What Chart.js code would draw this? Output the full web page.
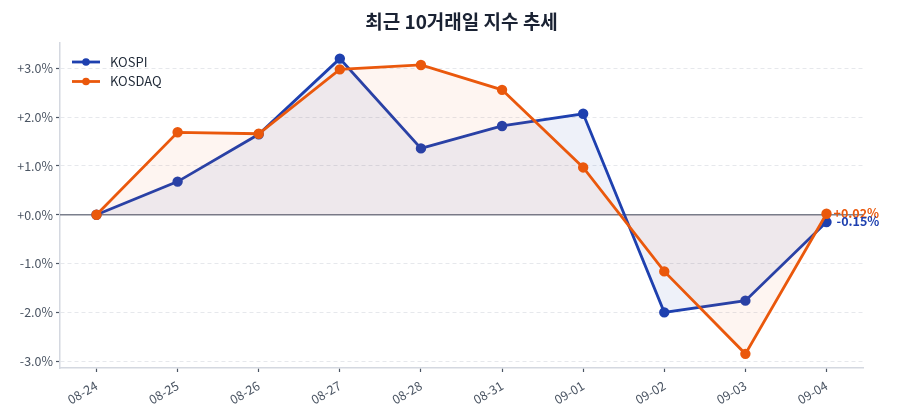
<!DOCTYPE html>
<html>
<head>
<meta charset="utf-8">
<script src="https://cdn.jsdelivr.net/npm/chart.js@4/dist/chart.umd.min.js"></script>
<style>
  body { margin: 0; background: #fff; }
  #wrap { width: 900px; height: 420px; }
</style>
</head>
<body>
<div id="wrap"><canvas id="myChart"></canvas></div>
<script>
// dati (variazione % rispetto al 08-24)
var dates = ["08-24", "08-25", "08-26", "08-27", "08-28", "08-31", "09-01", "09-02", "09-03", "09-04"];
var kospi = [0, 0.68, 1.65, 3.20, 1.36, 1.82, 2.07, -2.00, -1.76, -0.15];
var kosdaq = [0, 1.69, 1.66, 2.98, 3.07, 2.56, 0.97, -1.16, -2.85, 0.02];
var yTicks = [-3, -2, -1, 0, 1, 2, 3];
var titolo = "최근 10거래일 지수 추세";

var blue = "#1e40af";
var orange = "#ea580c";
var font = '"Noto Sans CJK KR", "Noto Sans", sans-serif';

function toPoints(arr) {
  return arr.map(function (v, i) { return { x: i, y: v }; });
}

function pct(v, dec) {
  return (v >= 0 ? "+" : "") + v.toFixed(dec) + "%";
}

// titolo, linea dello zero, legenda e etichette finali
var extras = {
  id: "extras",
  beforeDatasetsDraw: function (chart) {
    var ctx = chart.ctx, y = chart.scales.y, area = chart.chartArea;
    var py = y.getPixelForValue(0);
    ctx.save();
    ctx.strokeStyle = "#7a7f8c";
    ctx.lineWidth = 1.6;
    ctx.beginPath();
    ctx.moveTo(area.left, py);
    ctx.lineTo(area.right, py);
    ctx.stroke();
    ctx.restore();
  },
  afterDatasetsDraw: function (chart) {
    var ctx = chart.ctx, area = chart.chartArea;
    ctx.save();
    // titolo centrato sull'area del grafico
    ctx.fillStyle = "#1a2233";
    ctx.font = "bold 19px " + font;
    ctx.textAlign = "center";
    ctx.textBaseline = "middle";
    ctx.fillText(titolo, (area.left + area.right) / 2, 22);
    // legenda
    var items = [{ label: "KOSPI", color: blue }, { label: "KOSDAQ", color: orange }];
    items.forEach(function (it, i) {
      var ly = 62 + i * 19.5;
      ctx.strokeStyle = it.color;
      ctx.lineWidth = 2.8;
      ctx.beginPath();
      ctx.moveTo(72, ly);
      ctx.lineTo(100, ly);
      ctx.stroke();
      ctx.fillStyle = it.color;
      ctx.beginPath();
      ctx.arc(86, ly, 3.8, 0, Math.PI * 2);
      ctx.fill();
      ctx.fillStyle = "#1f2937";
      ctx.font = "13px " + font;
      ctx.textBaseline = "middle";
      ctx.textAlign = "left";
      ctx.fillText(it.label, 110, ly);
    });
    // etichette ultimo valore
    var last = dates.length - 1;
    var x = chart.scales.x.getPixelForValue(last);
    ctx.font = "bold 12.5px " + font;
    ctx.textBaseline = "middle";
    ctx.fillStyle = orange;
    ctx.fillText(pct(kosdaq[last], 2), x + 7, chart.scales.y.getPixelForValue(kosdaq[last]) - 1);
    ctx.fillStyle = blue;
    ctx.fillText(pct(kospi[last], 2), x + 10, chart.scales.y.getPixelForValue(kospi[last]) - 0.5);
    ctx.restore();
  }
};

new Chart("myChart", {
  type: "line",
  data: {
    datasets: [
      {
        label: "KOSPI",
        data: toPoints(kospi),
        borderColor: blue,
        backgroundColor: "rgba(30,64,175,0.075)",
        pointBackgroundColor: blue,
        pointBorderColor: blue,
        borderWidth: 2.8,
        pointRadius: 3.8,
        fill: "origin",
        order: 1,
      },
      {
        label: "KOSDAQ",
        data: toPoints(kosdaq),
        borderColor: orange,
        backgroundColor: "rgba(234,88,12,0.06)",
        pointBackgroundColor: orange,
        pointBorderColor: orange,
        borderWidth: 2.8,
        pointRadius: 3.8,
        fill: "origin",
        order: 0,
      },
    ],
  },
  options: {
    responsive: true,
    maintainAspectRatio: false,
    animation: false,
    layout: { padding: { left: 0, right: 37, top: 43, bottom: 0 } },
    plugins: {
      legend: { display: false },
      tooltip: { enabled: false },
      title: { display: false },
    },
    scales: {
      x: {
        type: "linear",
        min: -0.45,
        max: 9.45,
        afterBuildTicks: function (axis) {
          axis.ticks = dates.map(function (d, i) { return { value: i }; });
        },
        afterFit: function (axis) { axis.height = 52; },
        ticks: {
          callback: function (v) { return dates[v]; },
          color: "#4b5563",
          font: { family: font, size: 12.5 },
          minRotation: 30,
          maxRotation: 30,
          padding: 6,
        },
        grid: {
          drawOnChartArea: false,
          drawTicks: true,
          tickLength: 4,
          tickColor: "#4b5563",
          tickWidth: 1.2,
        },
        border: { color: "#d4d8e0", width: 1.5 },
      },
      y: {
        min: -3.14,
        max: 3.52,
        afterBuildTicks: function (axis) {
          axis.ticks = yTicks.map(function (v) { return { value: v }; });
        },
        afterFit: function (axis) { axis.width = 60; },
        ticks: {
          callback: function (v) { return pct(v, 1); },
          color: "#4b5563",
          font: { family: font, size: 12.5 },
          padding: 3,
        },
        grid: {
          color: function (c) { return c.tick && c.tick.value === 0 ? "rgba(0,0,0,0)" : "#e6e8ec"; },
          lineWidth: 1,
          tickLength: 4,
          tickColor: "#4b5563",
          tickWidth: 1.2,
        },
        border: { color: "#d4d8e0", width: 1.5, dash: [4, 3] },
      },
    },
  },
  plugins: [extras],
});
</script>
</body>
</html>
